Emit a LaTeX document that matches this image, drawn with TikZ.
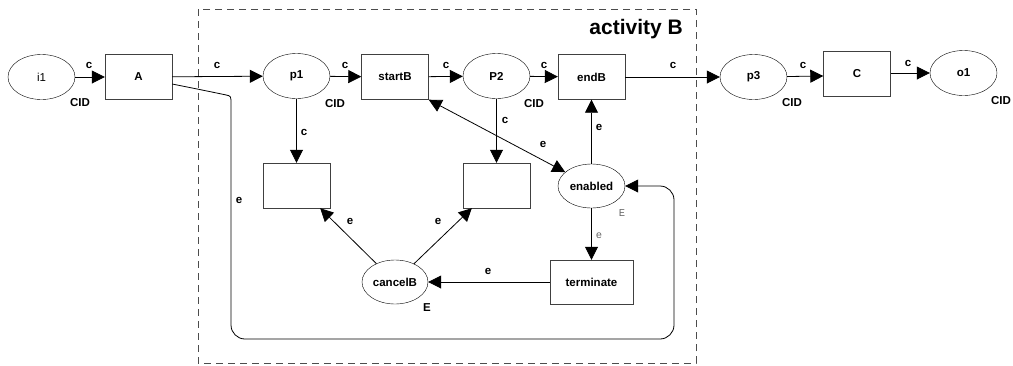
\documentclass[tikz,border=0pt]{standalone}
\usepackage{fontspec}
\setmainfont{Liberation Sans}
\newfontfamily\monof{Liberation Mono}
\usetikzlibrary{arrows.meta,shapes.geometric,calc}
\begin{document}
\begin{tikzpicture}[x=1pt,y=-1pt,
  lbl/.style={font=\fontsize{11.5}{13}\selectfont\bfseries, inner sep=0pt},
  place/.style={ellipse, draw, minimum width=67pt, minimum height=45pt, inner sep=0pt, font=\fontsize{11.5}{13}\selectfont\bfseries},
  trans/.style={rectangle, draw=black!75, minimum width=67pt, minimum height=45pt, inner sep=0pt, font=\fontsize{11.5}{13}\selectfont\bfseries},
  arc/.style={-{Triangle[length=13pt,width=13pt]}, line width=0.8pt},
  darc/.style={{Triangle[length=13pt,width=13pt]}-{Triangle[length=13pt,width=13pt]}, line width=0.8pt},
  greylbl/.style={font=\fontsize{10.5}{12}\selectfont\monof, text=black!60, inner sep=0pt}
]
\useasboundingbox (0,0) rectangle (1013,365);
% activity frame
\draw[black!70, dash pattern=on 7pt off 5pt, line width=0.8pt] (198,9) rectangle (696,363);
\node[anchor=east, font=\fontsize{21}{25}\selectfont\bfseries, inner sep=0pt] (actB) at (683,29) {activity B};

% nodes
\node[place, font=\fontsize{11.5}{13}\selectfont] (i1) at (41.5,77) {i1};
\node[trans] (A) at (138.5,77) {A};
\node[place] (p1) at (296.5,76) {p1};
\node[trans] (startB) at (395,77) {startB};
\node[place] (P2) at (496.5,76) {P2};
\node[trans] (endB) at (591.5,77) {endB};
\node[place] (p3) at (753.5,77) {p3};
\node[trans] (C) at (857,74) {C};
\node[place] (o1) at (963.5,73) {o1};
\node[trans] (b1) at (296.5,185.5) {};
\node[trans] (b2) at (496.5,185.5) {};
\node[place, minimum height=44pt] (enabled) at (591.5,186) {enabled};
\node[trans, minimum width=83pt, minimum height=44pt] (terminate) at (591.5,282) {terminate};
\node[place, minimum width=66pt, minimum height=44pt] (cancelB) at (395,282) {cancelB};

% CID labels
\node[lbl] (cid1) at (80,103) {CID};
\node[lbl] (cid2) at (335,104) {CID};
\node[lbl] (cid3) at (534,104) {CID};
\node[lbl] (cid4) at (792,103) {CID};
\node[lbl] (cid5) at (1001,101) {CID};
\node[greylbl] (Eg) at (622,213) {E};
\node[lbl] (Ec) at (427,308) {E};

% horizontal arcs
\draw[arc] (i1) -- (A);
\draw[arc] (A) -- (p1);
\draw[arc] (p1) -- (startB);
\draw[arc] (startB) -- (P2);
\draw[arc] (P2) -- (endB);
\draw[arc] (endB) -- (p3);
\draw[arc] (p3) -- ($(C.west)+(0,2)$);
\draw[arc] (C.east |- o1) -- (o1);
\node[lbl] at (89,65) {c};
\node[lbl] at (217,65) {c};
\node[lbl] at (345,65) {c};
\node[lbl] at (446,65) {c};
\node[lbl] at (544,65) {c};
\node[lbl] at (673,65) {c};
\node[lbl] at (803,65) {c};
\node[lbl] at (908,63) {c};

% vertical arcs
\draw[arc] (p1) -- (b1);
\node[lbl] at (304,132) {c};
\draw[arc] (P2) -- (b2);
\node[lbl] at (505,120) {c};
\draw[arc] (enabled) -- (endB);
\node[lbl] at (599,127) {e};
\draw[arc] (enabled) -- (terminate);
\node[greylbl] at (599,236) {e};
\draw[darc] (startB.south east) -- (enabled);
\node[lbl] at (543,144) {e};
\draw[arc] (terminate) -- (cancelB);
\node[lbl] at (488,271) {e};
\draw[arc] (cancelB) -- ($(b1.south east)+(-10,0)$);
\node[lbl] at (350,221) {e};
\draw[arc] (cancelB) -- ($(b2.south west)+(9,0)$);
\node[lbl] at (438,221) {e};

% loop arc from A to enabled
\draw[arc, rounded corners=14pt] ($(A.east)+(0,7)$) -- (212,92) .. controls (231,96) .. (231,118) -- (231,339) -- (674,339) -- (674,186) -- (enabled.east);
\node[lbl] at (239,200) {e};
\end{tikzpicture}
\end{document}
